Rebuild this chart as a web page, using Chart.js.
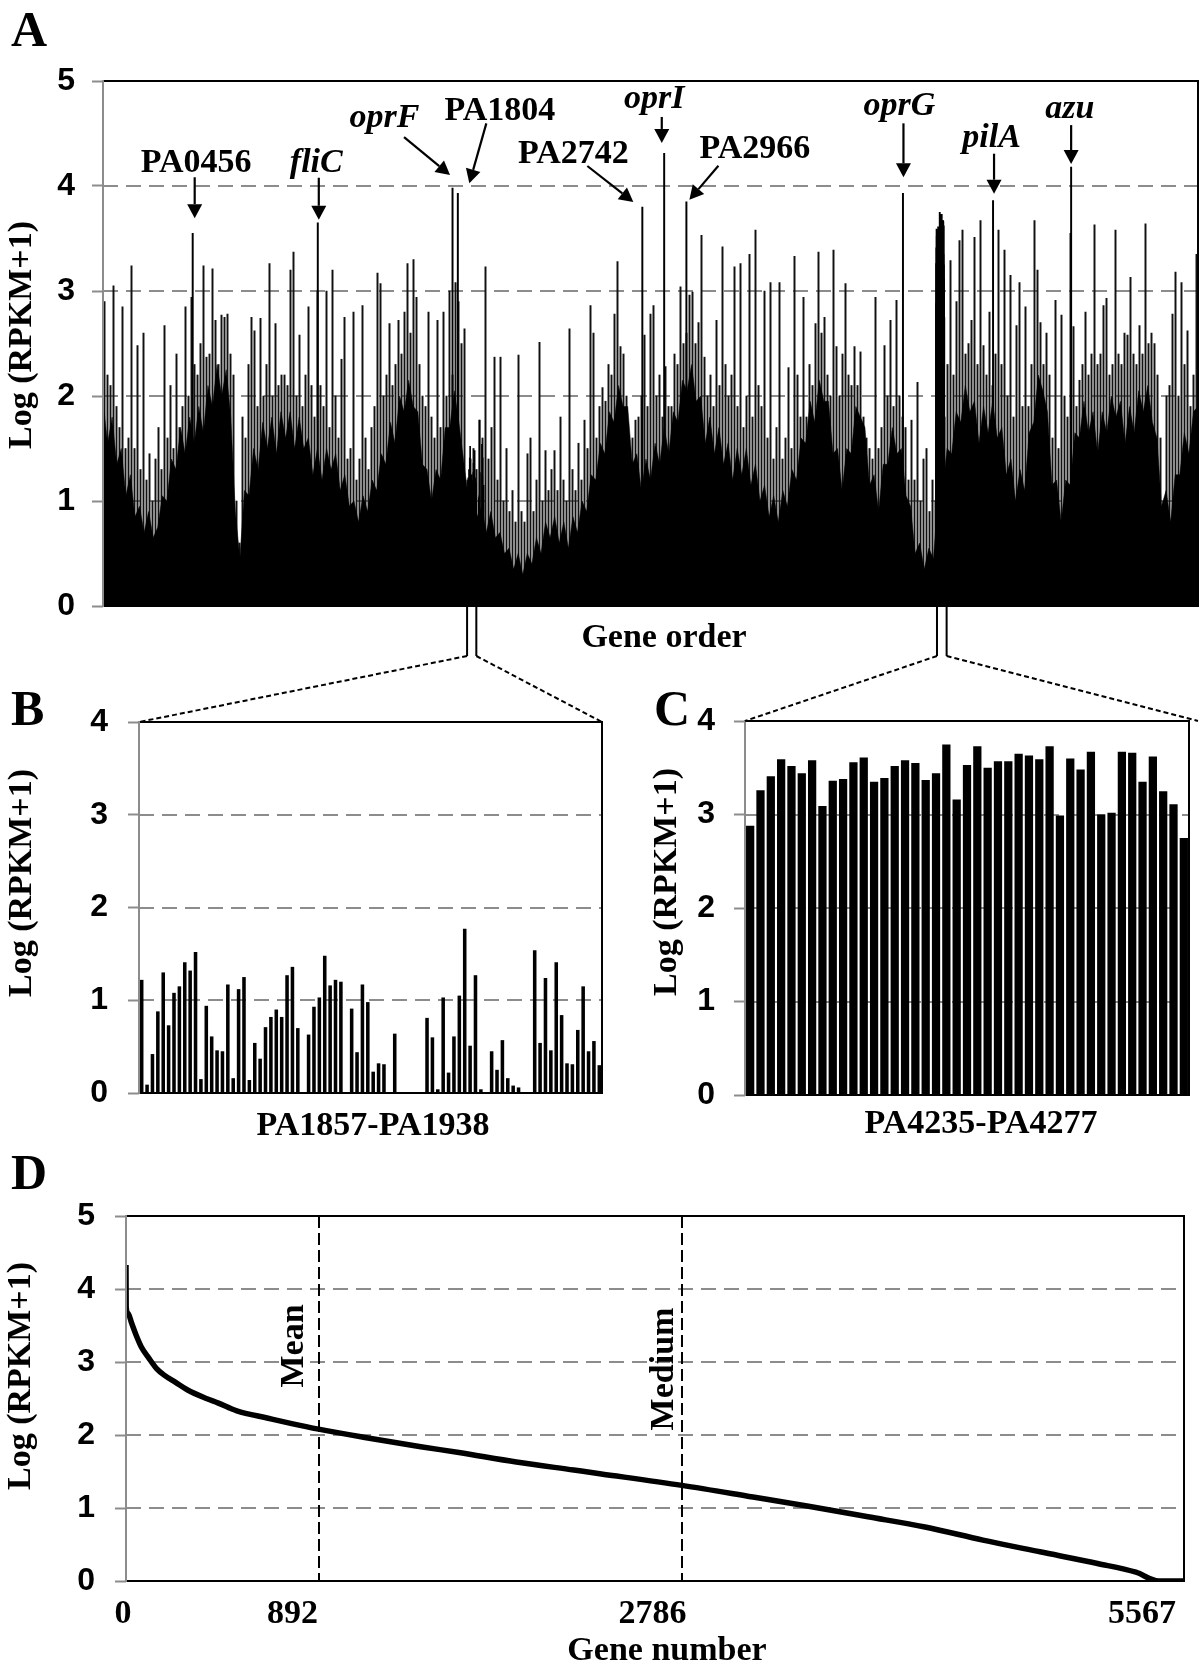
<!DOCTYPE html>
<html><head><meta charset="utf-8">
<script src="https://cdn.jsdelivr.net/npm/chart.js@4.4.1/dist/chart.umd.min.js"></script>
<style>
html,body{margin:0;padding:0;background:#fff;}
#page{position:relative;width:1200px;height:1673px;overflow:hidden;background:#fff;}
canvas{position:absolute;}
</style></head><body>
<div id="page">
<canvas id="cA" width="1200" height="680" style="left:0;top:0"></canvas>
<canvas id="cB" width="620" height="470" style="left:0;top:680px"></canvas>
<canvas id="cC" width="580" height="470" style="left:620px;top:680px"></canvas>
<canvas id="cD" width="1200" height="523" style="left:0;top:1150px"></canvas>
<canvas id="cO" width="1200" height="1673" style="left:0;top:0;pointer-events:none"></canvas>
</div>
<script>
// ---------------- DATA ----------------
const aGeneCount = 5567;
// ragged top of the solid black body of panel A (read along gene order)
const aCoreValues = [
1.95,1.55,1.8,1.35,1.5,1.05,1.25,0.85,0.95,0.7, 0.9,0.65,0.75,1.05,1.0,1.4,1.3,1.7,1.45,1.8,
1.55,1.9,1.65,2.1,1.9,2.3,2.0,2.25,1.8,0.9, 0.45,1.1,1.05,1.5,1.3,1.75,1.5,1.8,1.45,1.85,
1.6,1.85,1.5,1.8,1.5,1.6,1.25,1.5,1.2,1.5, 1.3,1.45,1.1,1.25,0.95,1.0,0.8,1.05,0.9,1.2,
1.1,1.45,1.35,1.75,1.55,2.0,1.85,2.15,1.9,1.85, 1.35,1.3,1.0,1.3,1.2,1.7,1.7,2.05,1.75,1.4,
1.05,1.2,0.85,0.95,0.7,0.9,0.65,0.7,0.5,0.55, 0.35,0.5,0.3,0.5,0.4,0.65,0.5,0.8,0.65,0.85,
0.6,0.8,0.55,0.85,0.7,1.0,0.9,1.25,1.2,1.55, 1.45,1.85,1.75,2.1,1.9,1.9,1.35,1.45,1.1,1.4,
1.2,1.55,1.35,1.7,1.45,1.85,1.75,2.15,2.05,2.3, 1.95,2.0,1.55,1.8,1.45,1.7,1.35,1.55,1.2,1.5,
1.25,1.5,1.15,1.35,1.0,1.15,0.85,1.05,0.8,1.1, 0.95,1.3,1.2,1.6,1.55,1.95,1.75,2.15,1.95,1.95,
1.45,1.5,1.1,1.5,1.45,1.9,1.8,1.7,1.15,1.25, 0.9,1.35,1.35,1.7,1.45,1.5,1.05,0.95,0.5,0.6,
0.35,0.55,0.45,1.0,1.1,1.5,1.45,1.85,1.75,2.1, 1.85,1.95,1.55,1.9,1.65,1.95,1.6,1.7,1.25,1.4,
1.0,1.3,1.1,1.65,1.75,2.2,2.05,1.85,1.15,1.2, 0.8,1.2,1.15,1.65,1.6,1.95,1.65,1.85,1.45,1.85,
1.65,2.0,1.8,1.95,1.55,1.9,1.65,2.05,1.85,2.1, 1.75,1.6,0.95,1.1,0.8,1.25,1.25,1.65,1.45,1.85,
1.9];
// thin spikes of panel A (read along gene order)
const aSpikeValues = [
2.9,2.2,2.1,3.05,1.9,1.7,2.85,1.5,1.6,3.24, 1.5,2.48,1.3,2.6,1.2,1.45,1.0,1.4,1.7,1.3,
2.67,1.6,2.1,1.5,2.4,1.7,1.9,2.85,2.0,2.94, 2.3,2.2,2.5,3.24,2.37,2.4,3.21,2.72,2.3,2.77,
2.75,2.78,2.4,2.2,1.0,0.6,1.8,1.6,2.3,2.75, 2.62,1.9,2.74,2.0,2.3,3.26,2.0,2.69,2.1,2.2,
2.2,2.1,3.2,3.37,2.0,2.58,1.9,2.2,2.85,2.1, 1.8,3.0,2.1,1.9,3.0,1.7,3.2,2.0,1.6,2.35,
2.75,1.4,1.5,2.8,1.2,1.4,2.86,1.6,1.3,1.7, 1.9,3.17,3.07,2.0,2.2,2.69,2.1,2.3,2.72,2.4,
2.8,3.26,2.6,3.3,2.94,2.3,2.0,1.9,2.8,1.8, 1.6,2.72,1.7,2.8,2.0,3.0,2.2,3.08,2.9,2.5,
2.64,1.2,1.4,1.5,1.3,1.77,1.6,3.23,1.4,1.7, 2.37,1.2,2.37,1.0,1.5,0.9,1.1,0.8,2.39,0.9,
0.8,1.45,1.6,0.9,1.2,2.51,1.0,1.48,1.1,1.3, 1.48,1.1,1.8,1.2,1.0,2.64,1.3,1.1,1.55,1.2,
1.77,1.5,2.86,2.6,1.6,1.9,2.08,1.95,2.3,2.2, 2.78,3.28,2.47,2.4,2.0,1.45,1.6,1.77,1.8,2.0,
2.58,1.9,2.78,2.86,2.0,2.2,1.8,2.28,1.9,1.9, 2.4,2.3,3.04,2.5,2.6,2.96,2.99,2.5,2.7,3.53,
2.37,2.0,2.2,1.9,2.72,2.1,3.42,2.3,2.0,2.2, 3.23,1.9,3.26,1.7,2.0,3.35,1.8,3.58,2.1,1.9,
3.0,1.6,3.08,1.4,1.7,3.08,1.4,1.6,2.27,1.5, 3.33,2.2,1.8,2.94,1.8,2.3,2.1,2.69,3.37,2.6,
2.75,2.2,2.0,3.39,2.47,2.0,2.4,3.07,2.2,2.1, 2.47,2.1,2.42,1.8,1.6,1.5,1.4,2.94,1.5,1.7,
2.48,2.0,2.72,1.9,2.91,2.0,1.8,1.7,1.2,1.77, 1.2,2.13,1.0,1.4,1.5,0.9,1.2,1.0,1.5,1.6,
1.8,2.3,3.29,2.2,2.9,3.48,3.58,2.4,2.5,2.72, 3.51,2.3,3.67,2.48,2.2,2.8,2.1,2.4,3.58,2.3,
3.39,2.0,3.15,1.8,2.67,3.08,1.9,2.85,1.9,2.3, 3.67,3.2,2.7,2.3,2.6,2.2,1.6,2.91,1.5,2.77,
2.0,1.8,3.55,2.66,1.9,2.15,2.3,2.8,2.2,2.4, 3.63,2.3,2.4,2.86,2.93,2.2,2.3,3.58,2.4,2.3,
2.6,2.58,3.13,2.4,2.3,2.67,2.4,3.64,2.5,2.6, 2.5,2.2,1.6,1.0,2.0,2.1,2.78,3.18,2.0,3.08,
2.3,2.62,1.9,2.2,3.35];
// labelled genes in panel A
const aPeakNames  = ['PA0456','fliC','oprF','PA1804','PA2742','oprI','PA2966','oprG','pilA','azu'];
const aPeakGenes  = [456, 1092, 1777, 1804, 2742, 2853, 2966, 4067, 4525, 4922];
const aPeakValues = [3.55, 3.65, 3.98, 3.93, 3.80, 4.31, 3.85, 3.93, 3.86, 4.18];
const aPeakItalic = [false, true, true, false, false, true, false, true, true, true];
// panel B: PA1857-PA1938
const bTitle = 'PA1857-PA1938';
const bStartGene = 1857, bEndGene = 1938;
const bValues = [1.22,0.09,0.42,0.88,1.30,0.73,1.08,1.15,1.41,1.32,
1.52,0.15,0.94,0.61,0.46,0.45,1.17,0.16,1.12,1.25,
0.14,0.54,0.37,0.71,0.82,0.90,0.82,1.27,1.36,0.70,
0,0.63,0.93,1.03,1.48,1.16,1.22,1.20,0,0.91,
0.44,1.17,0.98,0.23,0.32,0.31,0,0.64,0,0,
0,0,0,0.81,0.60,0.04,1.03,0.22,0.61,1.05,
1.77,0.51,1.27,0.04,0,0.45,0.25,0.57,0.16,0.08,
0.06,0,0,1.54,0.54,1.24,0.46,1.41,0.84,0.32,
0.31,0.68,1.15,0.45,0.56,0.30];
// panel C: PA4235-PA4277
const cTitle = 'PA4235-PA4277';
const cStartGene = 4235;
const cValues = [2.88,3.26,3.41,3.59,3.52,3.44,3.58,3.09,3.36,3.38,
3.56,3.61,3.35,3.39,3.52,3.58,3.55,3.37,3.44,3.75,
3.16,3.53,3.73,3.50,3.57,3.57,3.65,3.63,3.59,3.73,
2.99,3.60,3.48,3.67,3.00,3.02,3.67,3.66,3.35,3.62,
3.25,3.11,2.75];
// panel D: sorted expression curve
const dGenes  = [0,1,10,30,50,80,121,161,201,261,322,423,483,583,748,866,1013,1249,1551,1752,2054,2356,2493,2925,3299,3599,3904,4204,4509,4809,5112,5314,5434,5567];
const dValues = [4.33,3.75,3.67,3.53,3.39,3.21,3.05,2.91,2.82,2.72,2.62,2.50,2.44,2.33,2.23,2.16,2.08,1.97,1.84,1.76,1.63,1.52,1.47,1.31,1.15,1.02,0.88,0.74,0.56,0.40,0.24,0.12,0.0,0.0];
const dTickGenes = [0, 892, 2786, 5567];
const dMarkerNames = ['Mean', 'Medium'];
const dMarkerGenes = [1013, 2928];

// ---------------- STYLE / LAYOUT ----------------
const SERIF = '"Liberation Serif", "Times New Roman", serif';
const GRID = '#8c8c8c';
const TICKFONT = {family: 'Liberation Sans', size: 32, weight: 'bold'};
const F_TITLE = 'bold 34px ' + SERIF;
const F_ITAL = 'italic bold 34px ' + SERIF;
const F_LETTER = 'bold 50px ' + SERIF;
const YTITLE = 'Log (RPKM+1)';
const peakLabelOff = [[3.5,-61],[-1.5,-51],[-68,-61],[42,-73],[-69,-44],[-10,-45.5],[68.5,-44],[-3.5,-78],[-1.5,-54],[-1.2,-49]];
const peakArrowOff = [[2,-56,2,-15],[1,-45,1,-3],[-48.5,-51,-2.5,-13],[28.5,-70,11.5,-10],[-55,-41,-9,-5],[-2.4,-36.5,-2.4,-10.5],[32,-36,3,-2],[0.5,-70,0.5,-16],[1,-47,1,-7],[0,-42,0,-3]];

function text(ctx, s, x, y, font, align, rot, baseline) {
  ctx.save();
  ctx.font = font; ctx.fillStyle = '#000';
  ctx.textAlign = align || 'center';
  ctx.textBaseline = baseline || 'alphabetic';
  ctx.translate(x, y);
  if (rot) ctx.rotate(rot);
  ctx.fillText(s, 0, 0);
  ctx.restore();
}
function arrow(ctx, x1, y1, x2, y2) {
  const ang = Math.atan2(y2 - y1, x2 - x1), L = 14, W = 7.5;
  const bx = x2 - L * Math.cos(ang), by = y2 - L * Math.sin(ang);
  ctx.save();
  ctx.strokeStyle = '#000'; ctx.fillStyle = '#000'; ctx.lineWidth = 2.2;
  ctx.beginPath(); ctx.moveTo(x1, y1); ctx.lineTo(bx, by); ctx.stroke();
  ctx.beginPath();
  ctx.moveTo(x2, y2);
  ctx.lineTo(bx + W * Math.sin(ang), by - W * Math.cos(ang));
  ctx.lineTo(bx - W * Math.sin(ang), by + W * Math.cos(ang));
  ctx.closePath(); ctx.fill();
  ctx.restore();
}
function framePlugin(gridVals) {
  return {
    id: 'frame',
    beforeDatasetsDraw(chart) {
      const {ctx, chartArea: a, scales: {y}} = chart;
      ctx.save();
      ctx.strokeStyle = GRID; ctx.lineWidth = 2; ctx.setLineDash([15, 8]);
      gridVals.forEach(v => {
        const py = Math.round(y.getPixelForValue(v));
        ctx.beginPath(); ctx.moveTo(a.left, py); ctx.lineTo(a.right, py); ctx.stroke();
      });
      ctx.restore();
    },
    afterDatasetsDraw(chart) {
      const {ctx, chartArea: a} = chart;
      ctx.save(); ctx.lineWidth = 2; ctx.setLineDash([]);
      ctx.strokeStyle = '#000';
      ctx.beginPath(); ctx.moveTo(a.left, a.top); ctx.lineTo(a.right, a.top); ctx.lineTo(a.right, a.bottom); ctx.lineTo(a.left, a.bottom); ctx.stroke();
      ctx.strokeStyle = GRID;
      ctx.beginPath(); ctx.moveTo(a.left, a.top - 1); ctx.lineTo(a.left, a.bottom + 1); ctx.stroke();
      ctx.restore();
    }
  };
}
function yScale(max, width, pad) {
  return {
    min: 0, max: max,
    ticks: {stepSize: 1, color: '#000', font: TICKFONT, padding: pad},
    grid: {drawOnChartArea: false, drawTicks: true, tickLength: 11, tickColor: GRID, tickWidth: 2},
    border: {display: false},
    afterFit(s) { s.width = width; }
  };
}
function xHidden(extra) {
  return Object.assign({
    ticks: {display: false}, grid: {display: false}, border: {display: false},
    afterFit(s) { s.height = 10; }
  }, extra || {});
}
const base = {responsive: false, animation: false, devicePixelRatio: 1,
  plugins: {legend: {display: false}, tooltip: {enabled: false}}};

// ---------------- PANEL A ----------------
const chartA = new Chart(document.getElementById('cA'), {
  type: 'bar',
  data: {datasets: [
    {type: 'bar', label: 'spikes', order: 5, grouped: false, barThickness: 1.3, backgroundColor: '#111',
     data: aSpikeValues.map((v, j) => ({x: (j + 0.5) * aGeneCount / aSpikeValues.length, y: v}))},
    {type: 'line', label: 'body', order: 4, fill: 'origin', backgroundColor: '#000', borderColor: '#000', borderWidth: 0.5, pointRadius: 0, tension: 0,
     data: aCoreValues.map((v, i) => ({x: i * aGeneCount / (aCoreValues.length - 1), y: v}))},
    {type: 'bar', label: bTitle, order: 3, grouped: false, barThickness: 1, backgroundColor: '#000',
     data: bValues.map((v, i) => ({x: bStartGene + i * (bEndGene - bStartGene) / (bValues.length - 1), y: v}))},
    {type: 'bar', label: cTitle, order: 2, grouped: false, barThickness: 1.2, backgroundColor: '#000',
     data: cValues.map((v, i) => ({x: cStartGene + i, y: v}))},
    {type: 'bar', label: 'labelled', order: 1, grouped: false, barThickness: 1.3, backgroundColor: '#000',
     data: aPeakGenes.map((g, i) => ({x: g, y: aPeakValues[i]}))}
  ]},
  options: Object.assign({}, base, {
    layout: {padding: {left: 0, top: 81, right: 2, bottom: 64}},
    scales: {
      x: xHidden({type: 'linear', min: 0, max: aGeneCount, offset: false}),
      y: yScale(5, 103, 17)
    }
  }),
  plugins: [framePlugin([1, 2, 3, 4]), {
    id: 'textA',
    afterDraw(chart) {
      const ctx = chart.ctx, xs = chart.scales.x, ys = chart.scales.y;
      text(ctx, 'A', 11, 46, F_LETTER, 'left');
      text(ctx, YTITLE, 22, 335, F_TITLE, 'center', -Math.PI / 2, 'middle');
      text(ctx, 'Gene order', 664, 647, F_TITLE, 'center');
      aPeakGenes.forEach((g, i) => {
        const px = xs.getPixelForValue(g), py = ys.getPixelForValue(aPeakValues[i]);
        const lo = peakLabelOff[i], ao = peakArrowOff[i];
        text(ctx, aPeakNames[i], px + lo[0], py + lo[1], aPeakItalic[i] ? F_ITAL : F_TITLE, 'center');
        arrow(ctx, px + ao[0], py + ao[1], px + ao[2], py + ao[3]);
      });
    }
  }]
});

// ---------------- PANEL B ----------------
const chartB = new Chart(document.getElementById('cB'), {
  type: 'bar',
  data: {labels: bValues.map((_, i) => String(i + 1)),
    datasets: [{label: bTitle, data: bValues, backgroundColor: '#000', barPercentage: 0.66, categoryPercentage: 1}]},
  options: Object.assign({}, base, {
    layout: {padding: {left: 0, top: 42, right: 18, bottom: 47}},
    scales: {x: xHidden(), y: yScale(4, 139, 20)}
  }),
  plugins: [framePlugin([1, 2, 3]), {
    id: 'textB',
    afterDraw(chart) {
      const ctx = chart.ctx;
      text(ctx, 'B', 11, 45, F_LETTER, 'left');
      text(ctx, YTITLE, 22, 203, F_TITLE, 'center', -Math.PI / 2, 'middle');
      text(ctx, bTitle, 373, 455, F_TITLE, 'center');
    }
  }]
});

// ---------------- PANEL C ----------------
const chartC = new Chart(document.getElementById('cC'), {
  type: 'bar',
  data: {labels: cValues.map((_, i) => String(i + 1)),
    datasets: [{label: cTitle, data: cValues, backgroundColor: '#000', barPercentage: 0.8, categoryPercentage: 1}]},
  options: Object.assign({}, base, {
    layout: {padding: {left: 0, top: 41, right: 11, bottom: 45}},
    scales: {x: xHidden(), y: yScale(4, 125, 19)}
  }),
  plugins: [framePlugin([1, 2, 3]), {
    id: 'textC',
    afterDraw(chart) {
      const ctx = chart.ctx;
      text(ctx, 'C', 34, 45, F_LETTER, 'left');
      text(ctx, YTITLE, 47, 202, F_TITLE, 'center', -Math.PI / 2, 'middle');
      text(ctx, cTitle, 361, 453, F_TITLE, 'center');
    }
  }]
});

// ---------------- PANEL D ----------------
const dMarkerLabelDx = [-24, -18];
const dMarkerLabelCy = [196, 219];
const chartD = new Chart(document.getElementById('cD'), {
  type: 'line',
  data: {datasets: [{label: 'sorted', data: dGenes.map((g, i) => ({x: g, y: dValues[i]})),
    borderColor: '#000', borderWidth: 5.5, pointRadius: 0, fill: false, cubicInterpolationMode: 'monotone'}]},
  options: Object.assign({}, base, {
    layout: {padding: {left: 0, top: 66, right: 16, bottom: 82}},
    scales: {x: xHidden({type: 'linear', min: 0, max: aGeneCount}), y: yScale(5, 126, 20)}
  }),
  plugins: [framePlugin([1, 2, 3, 4]), {
    id: 'markersD',
    beforeDatasetsDraw(chart) {
      const {ctx, chartArea: a, scales: {x}} = chart;
      ctx.save(); ctx.strokeStyle = '#000'; ctx.lineWidth = 2; ctx.setLineDash([12, 5]);
      dMarkerGenes.forEach(g => {
        const px = Math.round(x.getPixelForValue(g));
        ctx.beginPath(); ctx.moveTo(px, a.top); ctx.lineTo(px, a.bottom); ctx.stroke();
      });
      ctx.restore();
    },
    afterDraw(chart) {
      const ctx = chart.ctx, x = chart.scales.x;
      text(ctx, 'D', 11, 39, F_LETTER, 'left');
      text(ctx, YTITLE, 21, 226, F_TITLE, 'center', -Math.PI / 2, 'middle');
      dMarkerGenes.forEach((g, i) => {
        text(ctx, dMarkerNames[i], x.getPixelForValue(g) + dMarkerLabelDx[i], dMarkerLabelCy[i], F_TITLE, 'center', -Math.PI / 2, 'middle');
      });
      dTickGenes.forEach((g, i) => {
        const last = i === dTickGenes.length - 1;
        text(ctx, String(g), x.getPixelForValue(g) + (last ? -8 : -3), 473, F_TITLE, last ? 'right' : 'center');
      });
      text(ctx, 'Gene number', 667, 510, F_TITLE, 'center');
    }
  }]
});

// ---------------- CONNECTORS ----------------
(function () {
  const o = document.getElementById('cO').getContext('2d');
  const xa = chartA.scales.x, aBot = chartA.chartArea.bottom, drop = 50;
  const links = [
    {genes: [1851, 1898], chart: chartB, left: 0, top: 680, rightEnd: null},
    {genes: [4240, 4289], chart: chartC, left: 620, top: 680, rightEnd: chartA.chartArea.right}
  ];
  links.forEach(l => {
    const x0 = xa.getPixelForValue(l.genes[0]), x1 = xa.getPixelForValue(l.genes[1]);
    const ca = l.chart.chartArea;
    const tl = [l.left + ca.left, l.top + ca.top];
    const tr = [l.rightEnd !== null ? l.rightEnd : l.left + ca.right, l.top + ca.top];
    o.save(); o.strokeStyle = '#000'; o.lineWidth = 2;
    o.beginPath(); o.moveTo(x0, aBot); o.lineTo(x0, aBot + drop); o.moveTo(x1, aBot); o.lineTo(x1, aBot + drop); o.stroke();
    o.setLineDash([5, 3]);
    o.beginPath(); o.moveTo(x0, aBot + drop); o.lineTo(tl[0], tl[1]); o.moveTo(x1, aBot + drop); o.lineTo(tr[0], tr[1]); o.stroke();
    o.restore();
  });
})();
</script>
</body></html>
